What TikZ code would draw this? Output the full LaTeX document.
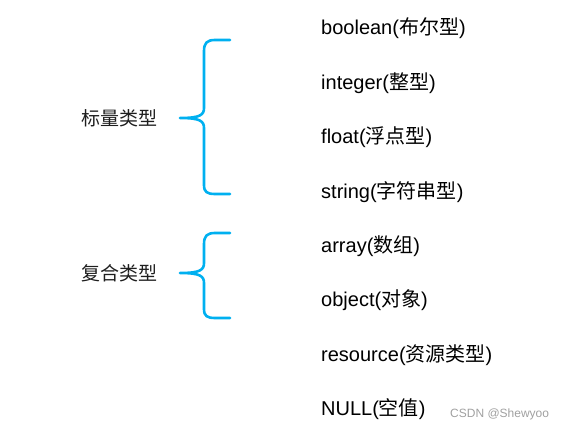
\documentclass[tikz,border=0pt]{standalone}
\usepackage{fontspec}
\setmainfont{Liberation Sans}
\newfontfamily\cjk{Noto Sans CJK SC}
\definecolor{bracecol}{RGB}{0,176,240}
\definecolor{wm}{RGB}{160,160,160}
\begin{document}
\begin{tikzpicture}[x=1pt,y=-1pt,
  item/.style={anchor=west,inner sep=0pt,font=\fontsize{20}{24}\selectfont},
  cat/.style={anchor=center,inner sep=0pt,font=\cjk\fontsize{19}{22}\selectfont\color[RGB]{30,30,30}},
  bracepath/.style={draw=bracecol,line width=2.6pt,line cap=round,line join=round}]
\useasboundingbox (0,0) rectangle (562,430);
% categories
\node[cat] (scalar) at (119,118) {标量类型};
\node[cat] (compound) at (119,273) {复合类型};
% braces
\draw[bracepath] (230,40) -- (215,40) .. controls (207,40) and (204,43) .. (204,51) -- (204,108)
  .. controls (204,115) and (200,118) .. (180,118)
  .. controls (200,118) and (204,121) .. (204,128) -- (204,185)
  .. controls (204,192) and (207,194) .. (215,194) -- (230,194);
\draw[bracepath] (230,233) -- (215,233) .. controls (207,233) and (204,236) .. (204,244) -- (204,263)
  .. controls (204,270) and (200,273) .. (180,273)
  .. controls (200,273) and (204,276) .. (204,283) -- (204,309)
  .. controls (204,316) and (207,318) .. (215,318) -- (230,318);
% items
\node[item] (b) at (321,28) {boolean({\cjk 布尔型})};
\node[item] (i) at (321,83) {integer({\cjk 整型})};
\node[item] (f) at (321,137) {float({\cjk 浮点型})};
\node[item] (s) at (321,192) {string({\cjk 字符串型})};
\node[item] (a) at (321,246) {array({\cjk 数组})};
\node[item] (o) at (321,300) {object({\cjk 对象})};
\node[item] (r) at (321,355) {resource({\cjk 资源类型})};
\node[item] (n) at (321,409) {NULL({\cjk 空值})};
\node[anchor=west,inner sep=0pt,font=\fontsize{12}{14}\selectfont,text=wm] (wmk) at (450,414) {CSDN @Shewyoo};
\end{tikzpicture}
\end{document}
